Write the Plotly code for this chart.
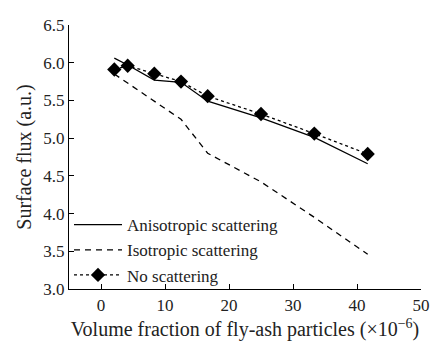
import plotly.graph_objects as go

x_vals = [2.08, 4.17, 8.33, 12.5, 16.67, 25.0, 33.33, 41.67]
aniso = [6.06, 5.97, 5.77, 5.74, 5.49, 5.27, 5.01, 4.66]
iso = [5.85, 5.73, 5.50, 5.25, 4.80, 4.42, 3.95, 3.46]
noscat = [5.91, 5.96, 5.855, 5.75, 5.556, 5.32, 5.06, 4.79]

names = ["Anisotropic scattering", "Isotropic scattering", "No scattering"]
x_ticks = [0, 10, 20, 30, 40, 50]
y_ticks = [3.0, 3.5, 4.0, 4.5, 5.0, 5.5, 6.0, 6.5]

fig = go.Figure()
fig.add_trace(go.Scatter(x=x_vals, y=aniso, mode="lines", name=names[0],
                         line=dict(color="black", width=1.3)))
fig.add_trace(go.Scatter(x=x_vals, y=iso, mode="lines", name=names[1],
                         line=dict(color="black", width=1.3, dash="6px,5px")))
fig.add_trace(go.Scatter(x=x_vals, y=noscat, mode="lines+markers", name=names[2],
                         line=dict(color="black", width=1.3, dash="dot"),
                         marker=dict(symbol="diamond", size=11, color="black")))

fig.update_layout(
    width=442, height=349,
    font=dict(family="Liberation Serif", size=17, color="#222222"),
    margin=dict(l=69, r=12, t=25, b=54),
    paper_bgcolor="white", plot_bgcolor="white",
    showlegend=True,
    legend=dict(x=0.0, y=0.31, xanchor="left", yanchor="top",
                bgcolor="rgba(0,0,0,0)", itemwidth=48),
)
fig.update_xaxes(range=[-5, 50], tickvals=x_ticks, showline=True, linecolor="black",
                 linewidth=1.3, ticks="inside", ticklen=5, tickcolor="black",
                 showgrid=False, zeroline=False,
                 title_text="Volume fraction of fly-ash particles (×10<sup>−6</sup>)",
                 title_standoff=8)
fig.update_yaxes(range=[3, 6.5], tickvals=y_ticks, tickformat=".1f", showline=True,
                 linecolor="black", linewidth=1.3, ticks="inside", ticklen=5,
                 tickcolor="black", showgrid=False, zeroline=False,
                 title_text="Surface flux (a.u.)", title_standoff=6)

fig.write_html("out.html")
